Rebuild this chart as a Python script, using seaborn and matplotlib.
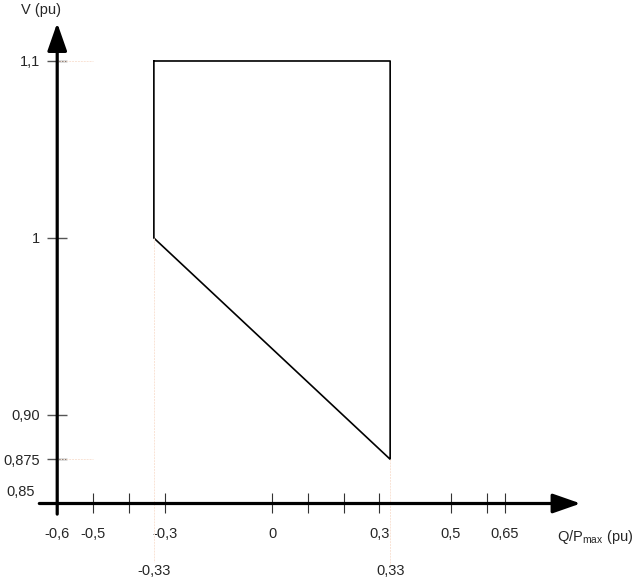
import numpy as np
import pandas as pd
import matplotlib
matplotlib.use("Agg")
import matplotlib.pyplot as plt
import seaborn as sns

# operating region (Q/Pmax, V)
q_vals = [-0.33, 0.33, 0.33, -0.33, -0.33]
v_vals = [1.1, 1.1, 0.875, 1.0, 1.1]

x_major = [-0.6, -0.5, -0.3, 0, 0.3, 0.5, 0.65]
x_major_labels = ["-0,6", "-0,5", "-0,3", "0", "0,3", "0,5", "0,65"]
x_minor = [-0.4, 0.1, 0.2, 0.6]
y_major = [0.875, 0.9, 1.0, 1.1]
y_major_labels = ["0,875", "0,90", "1", "1,1"]

sns.set_style("white")
plt.rcParams["font.family"] = ["Liberation Sans", "DejaVu Sans"]
plt.rcParams["mathtext.fontset"] = "custom"
plt.rcParams["mathtext.rm"] = "Liberation Sans"

fig = plt.figure(figsize=(6.41, 5.88), dpi=100)
ax = fig.add_axes([0, 0, 1, 1])
ax.set_xlim(-0.7598, 1.0307)
ax.set_ylim(0.80226, 1.13446)

df = pd.DataFrame({"q": q_vals, "v": v_vals})
sns.lineplot(data=df, x="q", y="v", sort=False, estimator=None,
             color="black", lw=1.2, ax=ax)
ax.set_xlabel("")
ax.set_ylabel("")

# faint guide lines
guide = dict(color="#f9e3d5", lw=0.7, ls=(0, (2, 1)))
ax.plot([-0.33, -0.33], [1.0, 0.817], **guide)
ax.plot([0.33, 0.33], [0.875, 0.815], **guide)
ax.plot([-0.6, -0.5], [1.1, 1.1], **guide)
ax.plot([-0.6, -0.5], [0.875, 0.875], **guide)

# axes through (-0.6, 0.85)
for s in ax.spines.values():
    s.set_visible(False)
ax.spines["left"].set_position(("data", -0.6))
ax.spines["bottom"].set_position(("data", 0.85))
arrow = dict(arrowstyle="-|>,head_length=1.0,head_width=0.35", lw=2.3,
             color="black", mutation_scale=17, shrinkA=0, shrinkB=0)
ax.annotate("", xy=(0.862, 0.85), xytext=(-0.65, 0.85), arrowprops=arrow)
ax.annotate("", xy=(-0.6, 1.1215), xytext=(-0.6, 0.844), arrowprops=arrow)

ax.set_xticks(x_major)
ax.set_xticklabels(x_major_labels)
ax.set_xticks(x_minor, minor=True)
ax.set_yticks(y_major)
ax.set_yticklabels(y_major_labels)
ax.tick_params(axis="x", which="both", direction="inout", length=14,
               width=0.8, color="#333333", pad=10, labelsize=10.5,
               bottom=True)
ax.tick_params(axis="y", direction="inout", length=15, width=1.0,
               color="#555555", pad=5, labelsize=10.5, left=True)
ax.grid(False)

ax.text(-0.663, 0.8565, "0,85", ha="right", va="center", fontsize=10.5)
ax.text(-0.33, 0.8119, "-0,33", ha="center", va="center", fontsize=10.5)
ax.text(0.33, 0.8119, "0,33", ha="center", va="center", fontsize=10.5)
ax.text(-0.645, 1.1289, "V (pu)", ha="center", va="center", fontsize=10.5)
ax.text(0.796, 0.8312, r"Q/P$_{\mathregular{max}}$ (pu)", ha="left",
        va="center", fontsize=10.5)

fig.savefig("out.png", dpi=100)
